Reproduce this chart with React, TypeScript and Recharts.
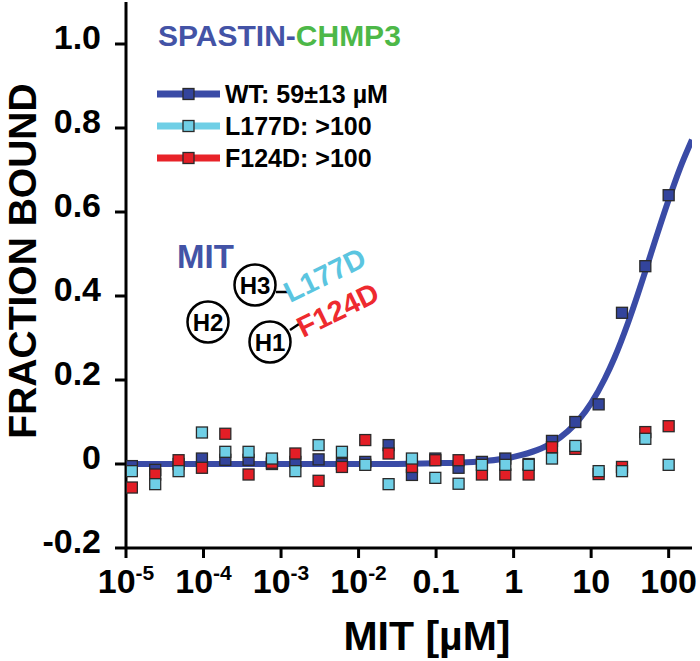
import React from "react";
import { ComposedChart, Line, Scatter, XAxis, YAxis, Legend } from "recharts";

// MIT concentrations (µM), two-fold dilution series, low to high
const conc = [
  0.0000119, 0.0000238, 0.0000477, 0.0000954, 0.000191, 0.000381, 0.000763, 0.00153,
  0.00305, 0.0061, 0.0122, 0.0244, 0.0488, 0.0977, 0.195, 0.39,
  0.781, 1.5625, 3.125, 6.25, 12.5, 25, 50, 100,
];

const wtBound = [
  -0.005, -0.014, 0.0, 0.013, 0.01, 0.01, 0.0, 0.005,
  0.011, 0.0, 0.005, 0.045, -0.026, 0.013, -0.009, 0.005,
  0.013, 0.0, 0.055, 0.1, 0.142, 0.36, 0.471, 0.64,
];
const l177dBound = [
  -0.017, -0.048, -0.017, 0.075, 0.029, 0.029, 0.013, -0.017,
  0.045, 0.029, -0.002, -0.048, 0.013, -0.033, -0.047, -0.002,
  -0.002, -0.002, 0.013, 0.043, -0.017, -0.017, 0.06, -0.002,
];
const f124dBound = [
  -0.056, -0.025, 0.009, -0.009, 0.072, -0.025, 0.003, 0.025,
  -0.04, -0.007, 0.057, 0.025, -0.007, 0.009, 0.009, -0.025,
  -0.025, -0.025, 0.04, 0.036, -0.024, -0.007, 0.076, 0.09,
];

// WT fit curve
const fitX = [0.00001, 0.0001, 0.001, 0.01, 0.1, 0.3, 1, 2, 3, 5, 7, 10, 15, 20, 30, 40, 50, 70, 100, 140, 200];
const fitY = [0, 0, 0, 0, 0.002, 0.005, 0.017, 0.033, 0.048, 0.078, 0.106, 0.145, 0.203, 0.253, 0.337, 0.404, 0.459, 0.543, 0.629, 0.704, 0.772];

const xTicks = [0.00001, 0.0001, 0.001, 0.01, 0.1, 1, 10, 100];
const xTickLabels = ["10^-5", "10^-4", "10^-3", "10^-2", "0.1", "1", "10", "100"];
const yTicks = [-0.2, 0, 0.2, 0.4, 0.6, 0.8, 1.0];
const yTickLabels = ["-0.2", "0", "0.2", "0.4", "0.6", "0.8", "1.0"];

const legendItems = [
  { name: "WT: 59\u00b113 \u00b5M", color: "#33449c", line: "#3a4ba6" },
  { name: "L177D: >100", color: "#6fcfe6", line: "#6fcfe6" },
  { name: "F124D: >100", color: "#e31e26", line: "#e82329" },
];

const FONT = "'Liberation Sans', Arial, sans-serif";

const toPoints = (ys: number[]) => conc.map((x, i) => ({ x, y: ys[i] }));
const fitData = fitX.map((x, i) => ({ x, y: fitY[i] }));

const square = (fill: string) => (props: any) => (
  <rect x={props.cx - 5.5} y={props.cy - 5.5} width={11} height={11} fill={fill} stroke="#2a2a2a" strokeWidth={1.3} />
);

const XTick = ({ x, y, payload }: any) => {
  const idx = xTicks.findIndex((t) => Math.abs(t - payload.value) < t * 1e-6);
  const [base, exp] = (xTickLabels[idx] ?? "").split("^");
  return (
    <text x={x} y={y} dy={33} textAnchor="middle" fontFamily={FONT} fontWeight="bold" fontSize={34} fill="#000">
      {base}
      {exp && (
        <tspan dy={-13} fontSize={21}>
          {exp}
        </tspan>
      )}
    </text>
  );
};

const YTick = ({ x, y, payload }: any) => {
  const idx = yTicks.findIndex((t) => Math.abs(t - payload.value) < 1e-9);
  return (
    <text x={x} y={y} dy={4.5} textAnchor="end" fontFamily={FONT} fontWeight="bold" fontSize={34} fill="#000">
      {yTickLabels[idx]}
    </text>
  );
};

const renderLegend = () => (
  <div style={{ fontFamily: FONT, fontWeight: "bold", fontSize: 25, color: "#000" }}>
    {legendItems.map((it) => (
      <div key={it.name} style={{ display: "flex", alignItems: "center", height: 32 }}>
        <svg width={68} height={14} style={{ marginRight: 2 }}>
          <line x1={2} y1={7} x2={65} y2={7} stroke={it.line} strokeWidth={7} />
          <rect x={28} y={1.5} width={11} height={11} fill={it.color} stroke="#2a2a2a" strokeWidth={1.3} />
        </svg>
        <span>{it.name}</span>
      </div>
    ))}
  </div>
);

export default function App() {
  return (
    <div style={{ position: "absolute", left: 0, top: 0, width: 700, height: 661, background: "#fff" }}>
      <ComposedChart width={700} height={661} margin={{ top: 2, right: 8, bottom: 0, left: 0 }}>
        <XAxis
          dataKey="x"
          type="number"
          scale="log"
          domain={[0.00001, 200]}
          ticks={xTicks}
          allowDataOverflow
          height={113}
          tickSize={10}
          tick={<XTick />}
          axisLine={{ stroke: "#000", strokeWidth: 3 }}
          tickLine={{ stroke: "#000", strokeWidth: 3 }}
          label={{
            value: "MIT [\u00b5M]",
            position: "insideBottom",
            offset: 11,
            dx: 18,
            fontFamily: FONT,
            fontWeight: "bold",
            fontSize: 41,
            fill: "#000",
          }}
        />
        <YAxis
          dataKey="y"
          type="number"
          domain={[-0.2, 1.1]}
          ticks={yTicks}
          allowDataOverflow
          width={126}
          tickSize={11}
          tickMargin={14}
          tick={<YTick />}
          axisLine={{ stroke: "#000", strokeWidth: 3 }}
          tickLine={{ stroke: "#000", strokeWidth: 3 }}
        />
        <Legend
          layout="vertical"
          align="center"
          verticalAlign="middle"
          content={renderLegend}
          wrapperStyle={{ top: 78, left: 155, width: "auto" }}
        />
        <Line
          data={fitData}
          dataKey="y"
          type="monotone"
          stroke="#3a4ba6"
          strokeWidth={6}
          dot={false}
          activeDot={false}
          isAnimationActive={false}
        />
        <Scatter data={toPoints(wtBound)} fill="#33449c" shape={square("#33449c")} isAnimationActive={false} />
        <Scatter data={toPoints(f124dBound)} fill="#e31e26" shape={square("#e31e26")} isAnimationActive={false} />
        <Scatter data={toPoints(l177dBound)} fill="#6fcfe6" shape={square("#6fcfe6")} isAnimationActive={false} />
      </ComposedChart>
      <svg width={700} height={661} style={{ position: "absolute", left: 0, top: 0, pointerEvents: "none" }} fontFamily={FONT} fontWeight="bold">
        <text x={158} y={46} fontSize={30}>
          <tspan fill="#4353a6">SPASTIN-</tspan>
          <tspan fill="#4db848">CHMP3</tspan>
        </text>
        <text x={23} y={261} transform="rotate(-90 23 261)" dy={13} textAnchor="middle" fontSize={39} fill="#000">
          FRACTION BOUND
        </text>
        <text x={177} y={268} fontSize={33} fill="#4353a6">MIT</text>
        <line x1={276} y1={292} x2={288} y2={292} stroke="#000" strokeWidth={2.5} />
        <line x1={290} y1={330} x2={299} y2={324} stroke="#000" strokeWidth={2.5} />
        {[
          { id: "H3", cx: 255, cy: 285 },
          { id: "H2", cx: 208, cy: 322 },
          { id: "H1", cx: 270, cy: 342 },
        ].map((h) => (
          <g key={h.id}>
            <circle cx={h.cx} cy={h.cy} r={20.5} fill="#fff" stroke="#000" strokeWidth={2.5} />
            <text x={h.cx} y={h.cy + 8.5} textAnchor="middle" fontSize={24} fill="#000">{h.id}</text>
          </g>
        ))}
        <text x={290} y={303} transform="rotate(-26 290 303)" fontSize={29} fill="#5bc5e0">L177D</text>
        <text x={303} y={338} transform="rotate(-26 303 338)" fontSize={29} fill="#ee2a2f">F124D</text>
      </svg>
    </div>
  );
}
